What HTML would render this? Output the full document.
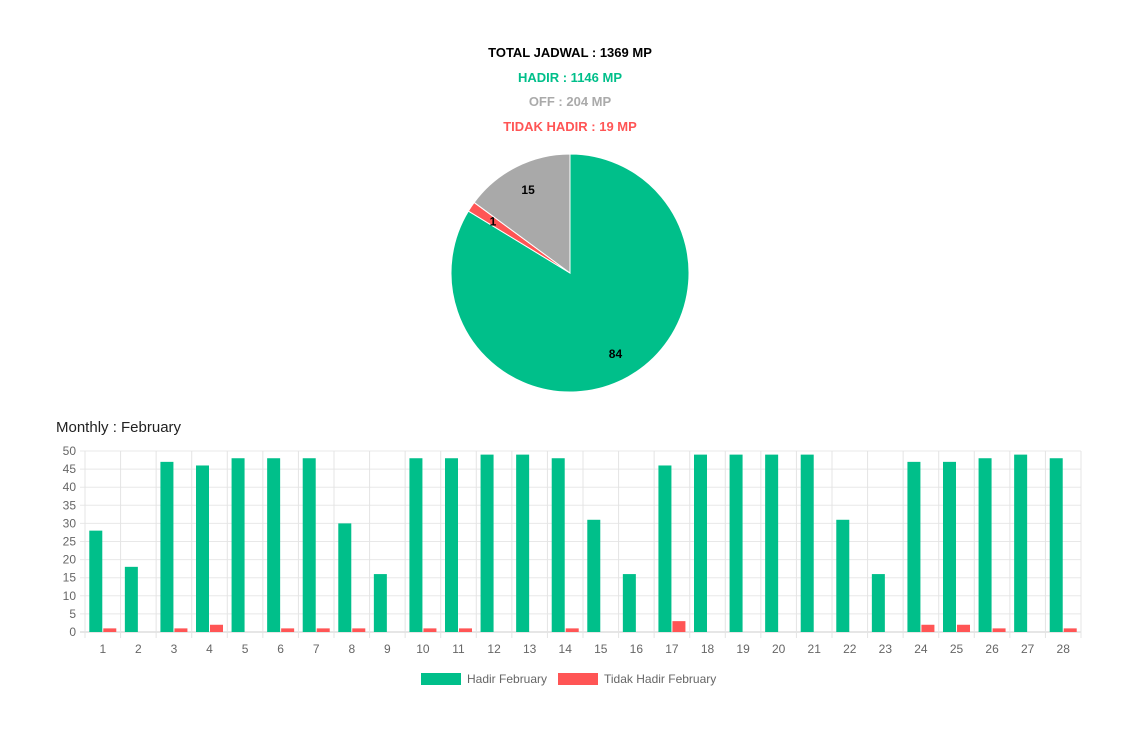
<!DOCTYPE html>
<html><head><meta charset="utf-8"><style>
body{margin:0;background:#fff;width:1140px;height:739px;overflow:hidden;font-family:"Liberation Sans",sans-serif}
.t{position:absolute;left:0;width:1140px;text-align:center;font-weight:bold;font-size:13px}
</style></head><body>
<div class="t" style="top:45px;color:#000">TOTAL JADWAL : 1369 MP</div>
<div class="t" style="top:70px;color:#00bf8a">HADIR : 1146 MP</div>
<div class="t" style="top:94px;color:#aaa">OFF : 204 MP</div>
<div class="t" style="top:119px;color:#ff5555">TIDAK HADIR : 19 MP</div>
<div style="position:absolute;left:56px;top:419px;font-size:15px;color:#222">Monthly : February</div>
<svg id="s" width="1140" height="739" style="position:absolute;left:0;top:0"></svg>
<script>
const pieLabels=["Hadir","Tidak Hadir","Off"];
const pieValues=[1146,19,204];
const pieColors=["#00bf8a","#ff5555","#a9a9a9"];
const days=[1,2,3,4,5,6,7,8,9,10,11,12,13,14,15,16,17,18,19,20,21,22,23,24,25,26,27,28];
const hadir=[28,18,47,46,48,48,48,30,16,48,48,49,49,48,31,16,46,49,49,49,49,31,16,47,47,48,49,48];
const tidak=[1,0,1,2,0,1,1,1,0,1,1,0,0,1,0,0,3,0,0,0,0,0,0,2,2,1,0,1];
const yTicks=[0,5,10,15,20,25,30,35,40,45,50];
const s=document.getElementById('s');const NS="http://www.w3.org/2000/svg";
function mk(t,a,p){const e=document.createElementNS(NS,t);for(const k in a)e.setAttribute(k,a[k]);(p||s).appendChild(e);return e;}
// pie
const cx=570,cy=273,r=119;const tot=pieValues.reduce((a,b)=>a+b,0);let ang=-Math.PI/2;
pieValues.forEach((v,i)=>{const a2=ang+v/tot*2*Math.PI;const lg=(a2-ang)>Math.PI?1:0;
const p=mk('path',{d:`M${cx},${cy}L${cx+r*Math.cos(ang)},${cy+r*Math.sin(ang)}A${r},${r} 0 ${lg} 1 ${cx+r*Math.cos(a2)},${cy+r*Math.sin(a2)}Z`,fill:pieColors[i],stroke:'#fff','stroke-width':1});


const m=(ang+a2)/2;const lr=r*0.78;
const t=mk('text',{x:cx+lr*Math.cos(m),y:cy+lr*Math.sin(m)+4,'text-anchor':'middle','font-size':12,'font-weight':'bold',fill:'#000'});
t.textContent=Math.round(v/tot*100);


ang=a2;});
// bars
const x0=85,x1=1081,y0=632,yT=451,ymax=50;const cw=(x1-x0)/days.length;
const Y=v=>y0-(v/ymax)*(y0-yT);
yTicks.forEach(v=>{mk('line',{x1:x0-5,x2:x1,y1:Y(v),y2:Y(v),stroke:v==0?'#ccc':'#e8e8e8'});
const t=mk('text',{x:x0-9,y:Y(v)+4,'text-anchor':'end','font-size':12,fill:'#666'});t.textContent=v;
});
for(let i=0;i<=days.length;i++)mk('line',{x1:x0+i*cw,x2:x0+i*cw,y1:yT,y2:y0+6,stroke:'#e4e4e4'});
days.forEach((d,i)=>{const c=x0+cw*(i+0.5);
const g=mk('rect',{x:c-13.5,y:Y(hadir[i]),width:13,height:y0-Y(hadir[i]),fill:'#00bf8a'});

const rr=mk('rect',{x:c+0.5,y:Y(tidak[i]),width:13,height:y0-Y(tidak[i]),fill:'#ff5555'});

const t=mk('text',{x:c,y:653,'text-anchor':'middle','font-size':12,fill:'#666'});t.textContent=d;
});
// legend
[[421,'#00bf8a','Hadir February'],[558,'#ff5555','Tidak Hadir February']].forEach(([x,c,l])=>{
const b=mk('rect',{x:x,y:673,width:40,height:12,fill:c});
const t=mk('text',{x:x+46,y:683,'font-size':12,fill:'#666'});t.textContent=l;
});
</script>
</body></html>
